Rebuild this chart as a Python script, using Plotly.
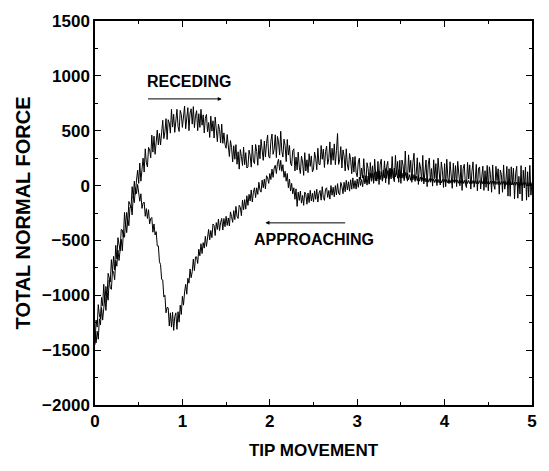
import plotly.graph_objects as go

# x grid: tip movement sampled every 0.0125 from 0 to 5
tip_movement = [round(i * 0.0125, 4) for i in range(401)]

receding = [
    -1450, -1225, -1290, -1085, -1180, -1215, -1020, -1095, -900, -1065, -920, -1025, -800, -835, -880, -675, -790, -645, -770, -545,
    -670, -475, -560, -595, -400, -405, -470, -245, -370, -245, -340, -145, -170, -205, -10, -115, 40, -80, 50, 140,
    20, 205, 40, 185, 250, 123, 335, 208, 170, 348, 325, 253, 460, 305, 450, 285, 440, 505, 370, 475,
    370, 523, 595, 428, 490, 610, 420, 600, 570, 478, 695, 533, 650, 485, 640, 695, 540, 493, 685, 648,
    530, 673, 725, 518, 590, 710, 500, 660, 700, 560, 720, 528, 635, 683, 500, 655, 530, 695, 550, 645,
    480, 614, 648, 491, 575, 439, 633, 496, 590, 433, 625, 488, 400, 560, 510, 390, 560, 385, 480, 375,
    340, 465, 340, 265, 410, 348, 215, 363, 240, 373, 195, 308, 150, 328, 265, 183, 350, 190, 300, 160,
    170, 323, 275, 168, 370, 225, 200, 375, 310, 185, 370, 245, 420, 285, 230, 405, 260, 385, 460, 265,
    250, 405, 470, 285, 330, 463, 255, 448, 400, 278, 495, 313, 260, 423, 365, 218, 420, 278, 365, 203,
    180, 318, 335, 133, 260, 143, 305, 168, 110, 268, 215, 93, 300, 133, 235, 118, 290, 175, 270, 125,
    150, 305, 250, 145, 340, 195, 190, 365, 240, 333, 165, 308, 360, 193, 245, 398, 190, 340, 230, 380,
    190, 318, 475, 193, 240, 355, 160, 325, 270, 133, 335, 188, 140, 293, 235, 108, 260, 123, 265, 118,
    80, 215, 250, 55, 160, 68, 245, 93, 30, 208, 155, 13, 210, 70, 180, 20, 240, 90, 40, 220,
    10, 190, 240, 40, 85, 225, 25, 175, 220, 10, 160, 60, 265, 75, 35, 275, 100, 220, 30, 230,
    20, 233, 185, 45, 315, 88, 40, 280, 120, 230, 30, 208, 295, 55, 105, 253, 10, 210, 160, 40,
    275, 15, 115, 233, -10, 190, 250, 38, 155, -5, 235, 63, 200, 0, 250, 78, 5, 215, 135, -17,
    200, -10, 240, 69, 18, 217, 126, -25, 204, 33, 182, -9, 220, 129, -2, 187, -44, 155, 194, 13,
    -18, 211, 60, 189, -32, 127, 216, -15, 44, 193, -48, 151, 170, -31, 98, 177, -44, 135, -16, 183,
    -48, 171, 100, -61, 188, 7, -34, 175, 44, 153, -78, 141, 100, -61, 188, -33, 26, 175, -96, 153,
    -98, 171, 10, 159, -122, 107, 176, -115, 84, -77, 182, -139, 140, -21, 168, -133, 126, -105, 184, -87,
    30,
]

approaching = [
    -1340, -1434, -1328, -1401, -1215, -1269, -1113, -1226, -1120, -1024, -1138, -981, -1045, -859, -933, -946, -780, -784, -858, -681,
    -735, -589, -683, -556, -490, -594, -428, -471, -335, -429, -313, -366, -200, -184, -268, -101, -155, -20, -73, 10,
    -50, -143, -75, -208, -160, -150, -280, -210, -300, -220, -350, -300, -290, -425, -350, -450, -420, -550, -550, -695,
    -720, -855, -860, -1015, -1000, -1160, -1110, -1115, -1280, -1160, -1290, -1155, -1320, -1195, -1160, -1310, -1150, -1245, -1090, -1175,
    -1010, -1090, -970, -900, -990, -845, -890, -760, -840, -785, -670, -775, -650, -650, -710, -580, -640, -530, -620, -520,
    -570, -463, -555, -448, -400, -495, -410, -475, -350, -363, -455, -338, -400, -305, -410, -335, -300, -405, -300, -375,
    -280, -363, -295, -368, -240, -283, -335, -228, -310, -190, -280, -300, -180, -198, -275, -133, -220, -128, -215, -93,
    -180, -80, -140, -40, -150, -60, -20, -110, -20, -80, 30, -40, -60, 50, -20, 60, -30, 90, 70, 20,
    110, 55, 150, 75, 160, 185, 110, 205, 240, 140, 230, 130, 190, 75, 130, 40, 110, -20, 60, -50,
    20, -75, -20, -125, -30, -190, -60, -135, -50, -160, -90, -180, -60, -80, -170, -68, -155, -43, -140, -70,
    -150, -48, -125, -33, -150, -68, -45, -133, -10, -108, -135, -33, -20, -108, -45, -123, 0, -88, -15, -103,
    0, -86, 18, -69, -85, 29, -7, -74, 30, -56, 48, -39, 35, -51, 53, -33, 70, -27, 45, -32,
    60, -16, 78, 1, 55, -11, 93, 16, 90, 4, 88, 21, 115, 39, 112, 26, 120, 43, 126, 59,
    132, 55, 128, 49, 140, 72, 154, 66, 138, 59, 150, 80, 150, 70, 160, 79, 138, 67, 145, 73,
    130, 68, 115, 63, 120, 68, 115, 53, 100, 48, 105, 53, 100, 38, 86, 44, 92, 40, 78, 37,
    72, 38, 70, 33, 66, 31, 64, 30, 62, 28, 60, 27, 58, 26, 56, 25, 55, 24, 56, 25,
    55, 24, 54, 23, 52, 22, 53, 21, 51, 22, 52, 20, 50, 21, 49, 20, 50, 19, 48, 20,
    49, 19, 47, 18, 48, 17, 46, 18, 45, 16, 46, 17, 44, 15, 45, 16, 43, 14, 44, 15,
    43, 13, 42, 12, 41, 11, 40, 10, 39, 9, 40, 10, 38, 8, 37, 7, 38, 8, 36, 6,
    35, 5, 34, 4, 33, 3, 32, 2, 31, 1, 30, 0, 29, -1, 28, -2, 27, -3, 26, -4,
    20,
]

x_ticks = [0, 1, 2, 3, 4, 5]
y_ticks = [-2000, -1500, -1000, -500, 0, 500, 1000, 1500]

FONT = "Liberation Sans, Arial, sans-serif"

fig = go.Figure()
fig.add_trace(go.Scatter(x=tip_movement, y=receding, mode="lines",
                         line=dict(color="black", width=1), name="Receding"))
fig.add_trace(go.Scatter(x=tip_movement, y=approaching, mode="lines",
                         line=dict(color="black", width=1), name="Approaching"))

axis_common = dict(
    showline=True, linecolor="black", linewidth=1.5, mirror="allticks",
    ticks="inside", ticklen=6, tickwidth=1.2, tickcolor="black",
    showgrid=False, zeroline=False,
    tickfont=dict(family=FONT, size=17, color="black", weight="bold"),
)

fig.update_xaxes(
    range=[0, 5], tickvals=x_ticks,
    minor=dict(ticks="inside", ticklen=3, tickwidth=1, tickcolor="black", dtick=0.5),
    title=dict(text="TIP MOVEMENT", font=dict(family=FONT, size=17, color="black", weight="bold"),
               standoff=14),
    **axis_common,
)
fig.update_yaxes(
    range=[-2000, 1500], tickvals=y_ticks,
    minor=dict(ticks="inside", ticklen=3, tickwidth=1, tickcolor="black", dtick=250),
    title=dict(text="TOTAL NORMAL FORCE", font=dict(family=FONT, size=20, color="black", weight="bold"),
               standoff=6),
    **axis_common,
)

fig.add_annotation(x=1.07, y=945, text="RECEDING", showarrow=False,
                   font=dict(family=FONT, size=16, color="black", weight="bold"))
fig.add_annotation(x=1.45, y=790, ax=0.59, ay=790, axref="x", ayref="y",
                   text="", showarrow=True, arrowhead=2, arrowsize=0.8,
                   arrowwidth=1, arrowcolor="black")
fig.add_annotation(x=2.51, y=-495, text="APPROACHING", showarrow=False,
                   font=dict(family=FONT, size=16, color="black", weight="bold"))
fig.add_annotation(x=1.95, y=-340, ax=2.88, ay=-340, axref="x", ayref="y",
                   text="", showarrow=True, arrowhead=2, arrowsize=0.8,
                   arrowwidth=1, arrowcolor="black")

fig.update_layout(
    width=549, height=471,
    margin=dict(l=95, r=12, t=18, b=66),
    paper_bgcolor="white", plot_bgcolor="white",
    showlegend=False,
)

fig.write_html("out.html")
